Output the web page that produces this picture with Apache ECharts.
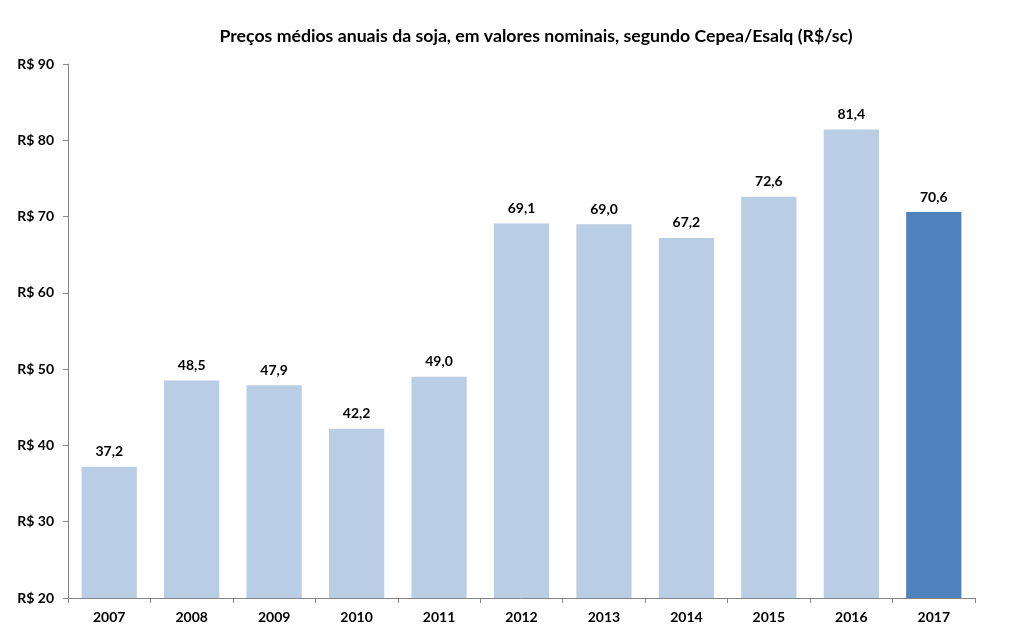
<!DOCTYPE html>
<html>
<head>
<meta charset="utf-8">
<script src="https://cdn.jsdelivr.net/npm/echarts@6/dist/echarts.min.js"></script>
<style>
  html, body { margin: 0; padding: 0; background: #fff; }
  #chart { width: 1013px; height: 632px; }
</style>
</head>
<body>
<div id="chart"></div>
<script>
// anos e preços médios (R$/sc)
var anos = ['2007', '2008', '2009', '2010', '2011', '2012', '2013', '2014', '2015', '2016', '2017'];
var precos = [37.2, 48.5, 47.9, 42.2, 49.0, 69.1, 69.0, 67.2, 72.6, 81.4, 70.6];
var destaque = '2017';

var fonte = 'Lato, "Open Sans", sans-serif';

var chart = echarts.init(document.getElementById('chart'));

chart.setOption({
  animation: false,
  title: {
    text: 'Preços médios anuais da soja, em valores nominais, segundo Cepea/Esalq (R$/sc)',
    left: 531,
    top: 22,
    textAlign: 'center',
    textStyle: { fontFamily: fonte, fontSize: 17.7, fontWeight: 'bold', color: '#000' }
  },
  grid: { left: 68, right: 38, top: 64, bottom: 34, containLabel: false },
  xAxis: {
    type: 'category',
    data: anos,
    axisLine: { lineStyle: { color: '#868686', width: 1 } },
    axisTick: { show: true, alignWithLabel: false, length: 5, lineStyle: { color: '#868686' } },
    axisLabel: { fontFamily: fonte, fontSize: 14, fontWeight: 'bold', color: '#000', margin: 12 }
  },
  yAxis: {
    type: 'value',
    min: 20,
    max: 90,
    interval: 10,
    splitLine: { show: false },
    axisLine: { show: true, lineStyle: { color: '#868686', width: 1 } },
    axisTick: { show: true, length: 5, lineStyle: { color: '#868686' } },
    axisLabel: {
      fontFamily: fonte, fontSize: 14, fontWeight: 'bold', color: '#000', margin: 14,
      formatter: 'R$ {value}'
    }
  },
  series: [{
    type: 'bar',
    barCategoryGap: '33%',
    data: precos.map(function (v, i) {
      return {
        value: v,
        itemStyle: { color: anos[i] === destaque ? '#4F81BD' : '#B9CDE5' }
      };
    }),
    label: {
      show: true,
      position: 'top',
      distance: 8,
      fontFamily: fonte,
      fontSize: 14,
      fontWeight: 'bold',
      color: '#000',
      formatter: function (p) { return p.value.toFixed(1).replace('.', ','); }
    }
  }]
});
</script>
</body>
</html>
